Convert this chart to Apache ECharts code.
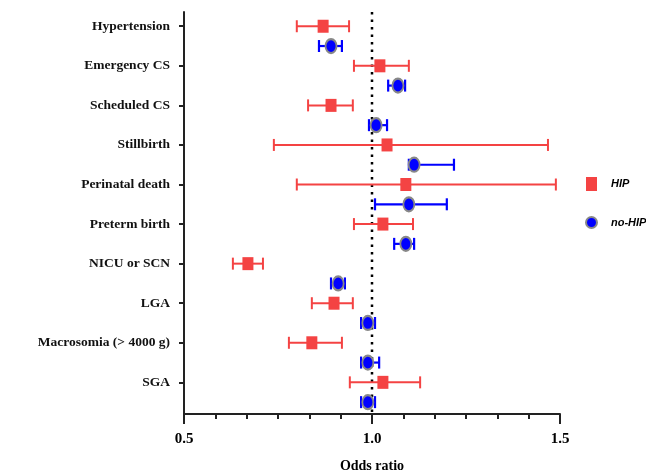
<!DOCTYPE html>
<html>
<head>
<meta charset="utf-8">
<script src="https://cdn.jsdelivr.net/npm/echarts@6/dist/echarts.min.js"></script>
<style>html,body{margin:0;padding:0;background:#fff}#c{width:646px;height:473px}</style>
</head>
<body>
<div id="c"></div>
<script>
const categories = ['Hypertension','Emergency CS','Scheduled CS','Stillbirth','Perinatal death','Preterm birth','NICU or SCN','LGA','Macrosomia (> 4000 g)','SGA'];
const hipOR   = [0.870, 1.021, 0.891, 1.040, 1.090, 1.029, 0.670, 0.899, 0.840, 1.029];
const hipLow  = [0.800, 0.952, 0.830, 0.739, 0.800, 0.952, 0.630, 0.840, 0.779, 0.941];
const hipHigh = [0.939, 1.098, 0.949, 1.468, 1.489, 1.109, 0.710, 0.949, 0.920, 1.128];
const noOR    = [0.891, 1.069, 1.011, 1.112, 1.098, 1.090, 0.910, 0.989, 0.989, 0.989];
const noLow   = [0.859, 1.043, 0.992, 1.098, 1.008, 1.059, 0.891, 0.971, 0.971, 0.971];
const noHigh  = [0.920, 1.088, 1.040, 1.218, 1.199, 1.112, 0.928, 1.008, 1.019, 1.008];
const xTicks = [0.5, 1.0, 1.5];

const RED = '#f44343', BLUE = '#0000ff';
const FONT = 'Liberation Serif';

function errData(low, high, off){ return categories.map((c,i)=>[i+off, low[i], high[i]]); }
function errRender(color, lw){
  return function(params, api){
    const y = api.value(0);
    const p1 = api.coord([api.value(1), y]);
    const p2 = api.coord([api.value(2), y]);
    const h = 6;
    const st = {stroke: color, lineWidth: lw};
    return {type:'group', children:[
      {type:'line', shape:{x1:p1[0],y1:p1[1],x2:p2[0],y2:p2[1]}, style:st},
      {type:'line', shape:{x1:p1[0],y1:p1[1]-h,x2:p1[0],y2:p1[1]+h}, style:st},
      {type:'line', shape:{x1:p2[0],y1:p2[1]-h,x2:p2[0],y2:p2[1]+h}, style:st}
    ]};
  };
}

const chart = echarts.init(document.getElementById('c'));
chart.setOption({
  animation:false,
  grid:{left:184, right:86, top:12, bottom:59, outerBoundsMode:'none', containLabel:false},
  legend:{
    orient:'vertical', left:580, top:172, itemGap:25, itemWidth:11, itemHeight:14,
    data:['HIP','no-HIP'],
    textStyle:{fontFamily:'Liberation Sans', fontStyle:'italic', fontWeight:'bold', fontSize:11, color:'#000', padding:[0,0,0,9]}
  },
  xAxis:{
    type:'value', min:0.5, max:1.5, interval:0.5,
    axisLine:{show:true, onZero:false, lineStyle:{color:'#222', width:2}},
    axisTick:{show:true, length:10, lineStyle:{color:'#222', width:2}},
    minorTick:{show:true, splitNumber:6, length:5, lineStyle:{color:'#222', width:2}},
    splitLine:{show:false},
    axisLabel:{margin:18, fontFamily:FONT, fontWeight:'bold', fontSize:15, color:'#000',
      customValues:xTicks, formatter:v=>v.toFixed(1)},
    name:'Odds ratio', nameLocation:'middle', nameGap:45,
    nameTextStyle:{fontFamily:FONT, fontWeight:'bold', fontSize:14, color:'#000'}
  },
  yAxis:{
    type:'value', inverse:true, min:-0.36, max:9.8,
    axisLine:{show:true, onZero:false, lineStyle:{color:'#222', width:2}},
    axisTick:{show:true, length:5, customValues:categories.map((c,i)=>i), lineStyle:{color:'#222', width:2}},
    splitLine:{show:false},
    axisLabel:{margin:14, fontFamily:FONT, fontWeight:'bold', fontSize:13.5, color:'#111',
      customValues:categories.map((c,i)=>i), formatter:v=>categories[Math.round(v)]}
  },
  series:[
    {type:'line', name:'ref', data:[[1.0,-0.36],[1.0,9.8]], symbol:'none', silent:true,
      lineStyle:{color:'#000', width:2.5, type:[2.5,5]}, z:1},
    {type:'custom', name:'hipErr', renderItem:errRender(RED,2), data:errData(hipLow,hipHigh,0),
      encode:{x:[1,2], y:0}, z:2},
    {type:'custom', name:'noErr', renderItem:errRender(BLUE,2.2), data:errData(noLow,noHigh,0.5),
      encode:{x:[1,2], y:0}, z:2},
    {type:'scatter', name:'HIP', symbol:'rect', symbolSize:[11,13],
      itemStyle:{color:RED, opacity:1}, data:hipOR.map((v,i)=>[v,i]), z:3},
    {type:'scatter', name:'no-HIP', symbol:'circle', symbolSize:[11,14],
      itemStyle:{color:BLUE, borderColor:'#888', borderWidth:2, opacity:1}, data:noOR.map((v,i)=>[v,i+0.5]), z:3}
  ]
});
</script>
</body>
</html>
